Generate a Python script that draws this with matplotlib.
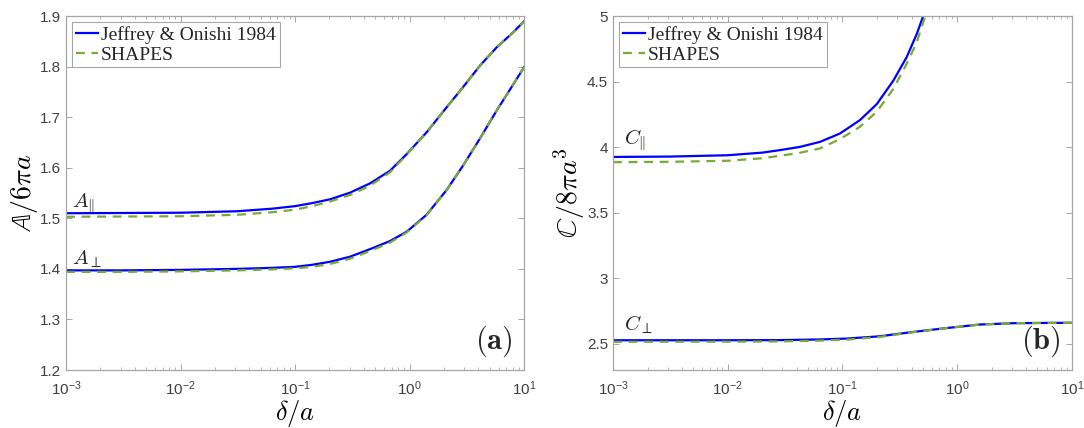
import matplotlib
matplotlib.use('Agg')
import matplotlib.pyplot as plt
import matplotlib.ticker as mticker
import numpy as np

plt.rcParams['font.family'] = ['Liberation Sans', 'DejaVu Sans']
plt.rcParams['mathtext.fontset'] = 'cm'

# Data:

# panel (a): translational resistance
x_A = np.array([0.001, 0.00316, 0.01, 0.0316, 0.063, 0.1, 0.141, 0.202, 0.302, 0.452,
                0.676, 0.946, 1.41, 2.11, 2.95, 4.13, 5.77, 8.07, 10.0])
A_par_JO = np.array([1.510, 1.5105, 1.511, 1.514, 1.519, 1.524, 1.530, 1.5375, 1.5506, 1.569,
                     1.594, 1.627, 1.670, 1.7195, 1.760, 1.802, 1.838, 1.868, 1.8895])
A_par_SH = np.array([1.503, 1.5035, 1.504, 1.507, 1.512, 1.517, 1.524, 1.533, 1.546, 1.5645,
                     1.591, 1.626, 1.670, 1.7195, 1.760, 1.802, 1.838, 1.868, 1.8895])
A_perp_JO = np.array([1.397, 1.397, 1.398, 1.400, 1.402, 1.404, 1.408, 1.414, 1.424, 1.439,
                      1.455, 1.4735, 1.507, 1.556, 1.605, 1.658, 1.713, 1.765, 1.7985])
A_perp_SH = np.array([1.394, 1.394, 1.395, 1.397, 1.399, 1.401, 1.404, 1.4096, 1.420, 1.435,
                      1.452, 1.472, 1.506, 1.556, 1.605, 1.658, 1.713, 1.765, 1.7985])

# panel (b): rotational resistance
x_Cpar = np.array([0.001, 0.00316, 0.01, 0.02, 0.0285, 0.0427, 0.0637, 0.0951, 0.142,
                   0.199, 0.277, 0.362, 0.444, 0.513, 0.562])
C_par_JO = np.array([3.925, 3.928, 3.938, 3.958, 3.977, 4.002, 4.040, 4.104, 4.206,
                     4.328, 4.506, 4.685, 4.863, 5.015, 5.12])
C_par_SH = np.array([3.885, 3.888, 3.896, 3.915, 3.934, 3.957, 3.990, 4.061, 4.155,
                     4.270, 4.443, 4.634, 4.800, 4.970, 5.08])

x_Cperp = np.array([0.001, 0.01, 0.0285, 0.063, 0.11, 0.21, 0.41, 0.81, 1.58, 3.1, 5.6, 10.0])
C_perp_JO = np.array([2.527, 2.527, 2.528, 2.533, 2.540, 2.557, 2.590, 2.620, 2.647, 2.657,
                      2.659, 2.660])
C_perp_SH = np.array([2.515, 2.516, 2.518, 2.524, 2.532, 2.552, 2.588, 2.620, 2.647, 2.657,
                      2.659, 2.660])

blue = '#0000ff'
green = '#77ac30'
gray_axis = '#a6a6a6'
gray_text = '#404040'
dash = (0, (4, 3))


def style_axes(ax, ylim, yticks):
    ax.set_xscale('log')
    ax.set_xlim(1e-3, 10)
    ax.set_ylim(*ylim)
    ax.set_yticks(yticks)
    ax.set_xticks([1e-3, 1e-2, 1e-1, 1e0, 1e1])
    ax.xaxis.set_major_formatter(mticker.FuncFormatter(
        lambda v, p: r'$\mathregular{10^{%d}}$' % int(round(np.log10(v)))))
    ax.xaxis.set_minor_locator(mticker.LogLocator(base=10, subs=np.arange(2, 10)))
    ax.xaxis.set_minor_formatter(mticker.NullFormatter())
    for s in ax.spines.values():
        s.set_color(gray_axis)
        s.set_linewidth(0.9)
    ax.tick_params(which='both', direction='in', top=True, right=True,
                   color=gray_axis, labelcolor=gray_text, labelsize=11)
    ax.tick_params(which='major', length=4, width=0.7)
    ax.tick_params(which='minor', length=2.5, width=0.6)
    ax.tick_params(axis='x', which='major', pad=7)
    ax.set_xlabel(r'$\delta/a$', fontsize=19, labelpad=0)


def add_legend(ax):
    leg = ax.legend(loc='upper left', prop={'family': 'Liberation Serif', 'size': 14},
                    fancybox=False, framealpha=1, edgecolor=gray_axis,
                    handlelength=1.15, handletextpad=0.15, borderpad=0.2,
                    labelspacing=0.12, borderaxespad=0.3)
    leg.get_frame().set_linewidth(0.8)
    for t in leg.get_texts():
        t.set_color('#262626')


fig = plt.figure(figsize=(10.84, 4.28), dpi=100)
ax1 = fig.add_axes([0.0609, 0.1355, 0.4225, 0.8271])
ax2 = fig.add_axes([0.5655, 0.1355, 0.4234, 0.8271])

# (a)
ax1.plot(x_A, A_par_JO, color=blue, lw=1.6, label='Jeffrey & Onishi 1984')
ax1.plot(x_A, A_par_SH, color=green, lw=1.6, ls=dash, label='SHAPES')
ax1.plot(x_A, A_perp_JO, color=blue, lw=1.6)
ax1.plot(x_A, A_perp_SH, color=green, lw=1.6, ls=dash)
style_axes(ax1, (1.2, 1.9), [1.2, 1.3, 1.4, 1.5, 1.6, 1.7, 1.8, 1.9])
ax1.yaxis.set_major_formatter(mticker.FormatStrFormatter('%.1f'))
ax1.set_ylabel(r'$\mathbb{A}/6\pi a$', fontsize=20, labelpad=0)
ax1.text(1.12e-3, 1.522, r'$A_{\|}$', fontsize=15, color='#262626')
ax1.text(1.12e-3, 1.408, r'$A_{\perp}$', fontsize=15, color='#262626')
ax1.text(0.975, 0.03, r'$\mathbf{(a)}$', transform=ax1.transAxes, ha='right', va='bottom',
         fontsize=22, color='#262626')
add_legend(ax1)

# (b)
ax2.plot(x_Cpar, C_par_JO, color=blue, lw=1.6, label='Jeffrey & Onishi 1984')
ax2.plot(x_Cpar, C_par_SH, color=green, lw=1.6, ls=dash, label='SHAPES')
ax2.plot(x_Cperp, C_perp_JO, color=blue, lw=1.6)
ax2.plot(x_Cperp, C_perp_SH, color=green, lw=1.6, ls=dash)
style_axes(ax2, (2.3, 5.0), [2.5, 3, 3.5, 4, 4.5, 5])
ax2.yaxis.set_major_formatter(mticker.FuncFormatter(lambda v, p: ('%g' % v)))
ax2.set_ylabel(r'$\mathbb{C}/8\pi a^3$', fontsize=20, labelpad=0)
ax2.text(1.25e-3, 4.02, r'$C_{\|}$', fontsize=15, color='#262626')
ax2.text(1.25e-3, 2.60, r'$C_{\perp}$', fontsize=15, color='#262626')
ax2.text(0.975, 0.03, r'$\mathbf{(b)}$', transform=ax2.transAxes, ha='right', va='bottom',
         fontsize=22, color='#262626')
add_legend(ax2)

plt.savefig('out.png', dpi=100)
